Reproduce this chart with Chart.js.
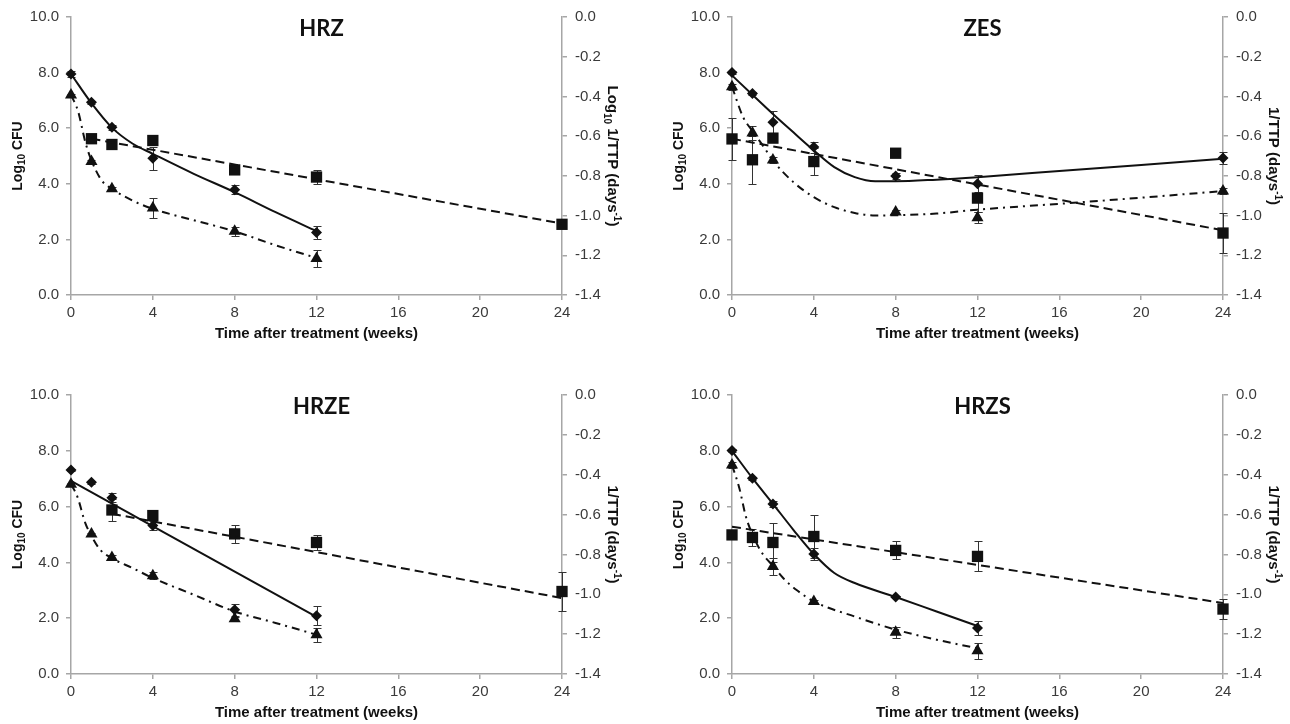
<!DOCTYPE html>
<html><head><meta charset="utf-8">
<script src="https://cdn.jsdelivr.net/npm/chart.js@4.4.1/dist/chart.umd.min.js"></script>
<style>
html,body{margin:0;padding:0;background:#fff;}
body{width:1290px;height:724px;position:relative;overflow:hidden;}
.panel{position:absolute;}
canvas{display:block;}
</style></head><body>
<div class="panel" style="left:0;top:0;"><canvas id="c1" width="645" height="360"></canvas></div>
<div class="panel" style="left:645px;top:0;"><canvas id="c2" width="645" height="360"></canvas></div>
<div class="panel" style="left:0;top:360px;"><canvas id="c3" width="645" height="364"></canvas></div>
<div class="panel" style="left:645px;top:360px;"><canvas id="c4" width="645" height="364"></canvas></div>
<script>
// ---------- data ----------
const weeks = [0, 1, 2, 4, 8, 12, 24];
const xTickValues = [0, 4, 8, 12, 16, 20, 24];
const cfuTickValues = [0, 2, 4, 6, 8, 10];
const ttpTickValues = [0, -0.2, -0.4, -0.6, -0.8, -1.0, -1.2, -1.4];

// HRZ
const hrzCfu    = [7.95, 6.93, 6.03, 4.92, 3.79, 2.25, null];
const hrzCfuErr = [0.10, 0.05, 0.08, 0.42, 0.15, 0.25, null];
const hrzTri    = [7.19, 4.80, 3.82, 3.13, 2.29, 1.31, null];
const hrzTriErr = [0.05, 0.05, 0.08, 0.35, 0.15, 0.30, null];
const hrzTtp    = [null, -0.613, -0.642, -0.622, -0.770, -0.806, -1.044];
const hrzTtpErr = [null, 0.010, 0.025, 0.020, 0.010, 0.037, 0.020];
const hrzCfuFitT = [0, 1, 2, 3, 4, 6, 8, 10, 12];
const hrzCfuFit  = [7.95, 6.90, 6.02, 5.45, 5.08, 4.36, 3.70, 2.98, 2.30];
const hrzTriFitT = [0, 0.35, 0.7, 1, 1.5, 2, 3, 4, 6, 8, 10, 12];
const hrzTriFit  = [7.20, 6.60, 5.50, 4.84, 4.12, 3.82, 3.40, 3.10, 2.69, 2.29, 1.79, 1.33];
const hrzTtpFitT = [1, 24];
const hrzTtpFit  = [-0.613, -1.040];

// ZES
const zesCfu    = [8.00, 7.25, 6.21, 5.32, 4.28, 4.00, 4.93];
const zesCfuErr = [0.05, 0.05, 0.40, 0.20, 0.12, 0.30, 0.20];
const zesTri    = [7.49, 5.83, 4.86, null, 2.99, 2.78, 3.74];
const zesTriErr = [0.10, 0.25, 0.10, null, 0.08, 0.20, 0.10];
const zesTtp    = [-0.614, -0.719, -0.610, -0.728, -0.686, -0.912, -1.088];
const zesTtpErr = [0.105, 0.120, 0.020, 0.066, 0, 0.070, 0.100];
const zesCfuFitT = [0, 1, 2, 3, 4, 5, 6, 7, 8, 10, 12, 16, 20, 24];
const zesCfuFit  = [7.90, 7.20, 6.51, 5.85, 5.20, 4.60, 4.24, 4.09, 4.09, 4.15, 4.24, 4.46, 4.68, 4.90];
const zesTriFitT = [0, 0.55, 1, 1.56, 2, 3, 4, 5, 6, 7, 8, 10, 12, 16, 20, 24];
const zesTriFit  = [7.49, 6.39, 5.90, 5.32, 4.84, 4.06, 3.52, 3.16, 2.95, 2.86, 2.87, 2.93, 3.07, 3.28, 3.50, 3.74];
const zesTtpFitT = [0, 24];
const zesTtpFit  = [-0.613, -1.074];

// HRZE
const hrzeCfu    = [7.31, 6.87, 6.32, 5.32, 2.30, 2.09, null];
const hrzeCfuErr = [0.05, 0.05, 0.15, 0.15, 0.22, 0.33, null];
const hrzeTri    = [6.80, 5.02, 4.18, 3.52, 1.98, 1.41, null];
const hrzeTriErr = [0.05, 0.05, 0.10, 0.12, 0.08, 0.25, null];
const hrzeTtp    = [null, null, -0.577, -0.605, -0.697, -0.740, -0.986];
const hrzeTtpErr = [null, null, 0.055, 0.015, 0.046, 0.037, 0.100];
const hrzeCfuFitT = [0, 12];
const hrzeCfuFit  = [6.92, 2.05];
const hrzeTriFitT = [0, 0.31, 0.7, 1, 1.43, 2, 3, 4, 6, 8, 10, 12];
const hrzeTriFit  = [6.80, 6.36, 5.41, 4.95, 4.45, 4.15, 3.80, 3.44, 2.84, 2.24, 1.83, 1.41];
const hrzeTtpFitT = [2, 24];
const hrzeTtpFit  = [-0.596, -1.019];

// HRZS
const hrzsCfu    = [8.01, 7.02, 6.09, 4.30, 2.76, 1.65, null];
const hrzsCfuErr = [0.05, 0.05, 0.12, 0.20, 0.05, 0.25, null];
const hrzsTri    = [7.49, null, 3.85, 2.60, 1.50, 0.83, null];
const hrzsTriErr = [0.10, null, 0.30, 0.05, 0.20, 0.28, null];
const hrzsTtp    = [-0.702, -0.715, -0.740, -0.710, -0.780, -0.810, -1.074];
const hrzsTtpErr = [0.010, 0.042, 0.100, 0.109, 0.045, 0.075, 0.050];
const hrzsCfuFitT = [0, 1, 2, 3, 4, 5, 6, 8, 10, 12];
const hrzsCfuFit  = [8.00, 7.02, 6.10, 5.17, 4.30, 3.62, 3.26, 2.76, 2.24, 1.72];
const hrzsTriFitT = [0, 0.36, 0.68, 1.12, 1.53, 2, 2.5, 3.14, 4, 6, 8, 10, 12];
const hrzsTriFit  = [7.49, 6.66, 5.64, 4.81, 4.27, 3.88, 3.44, 3.02, 2.60, 2.06, 1.59, 1.23, 0.92];
const hrzsTtpFitT = [0, 24];
const hrzsTtpFit  = [-0.661, -1.044];

// ---------- helpers ----------
const FONT = '"Liberation Sans", Arial, Helvetica, sans-serif';
const AXIS_COLOR = '#a6a6a6';
const INK = '#111';

function pts(xs, ys, errs) {
  const out = [];
  xs.forEach((x, i) => {
    if (ys[i] === null || ys[i] === undefined) return;
    const p = {x: x, y: ys[i]};
    if (errs) p.e = errs[i] || 0;
    out.push(p);
  });
  return out;
}

function drawRich(ctx, segs, cx, cy, rot, size) {
  ctx.save();
  ctx.translate(cx, cy);
  ctx.rotate(rot);
  let total = 0;
  const parts = segs.map(s => {
    const fs = s.k ? Math.round(size * 0.68) : size;
    ctx.font = 'bold ' + fs + 'px ' + FONT;
    const w = ctx.measureText(s.t).width;
    total += w;
    return {s: s, fs: fs, w: w};
  });
  let x = -total / 2;
  ctx.textBaseline = 'alphabetic';
  ctx.textAlign = 'left';
  ctx.fillStyle = INK;
  const base = size * 0.36;
  parts.forEach(p => {
    ctx.font = 'bold ' + p.fs + 'px ' + FONT;
    const dy = p.s.k === 'sub' ? size * 0.22 : (p.s.k === 'sup' ? -size * 0.42 : 0);
    ctx.fillText(p.s.t, x, base + dy);
    x += p.w;
  });
  ctx.restore();
}

const errorBars = {
  id: 'errorBars',
  beforeDatasetsDraw(chart) {
    const ctx = chart.ctx;
    const xs = chart.scales.x;
    chart.data.datasets.forEach(ds => {
      if (!ds.withErr) return;
      const ys = chart.scales[ds.yAxisID];
      ctx.save();
      ctx.strokeStyle = '#333';
      ctx.lineWidth = 1;
      ds.data.forEach(p => {
        if (!p.e) return;
        const x = Math.round(xs.getPixelForValue(p.x)) + 0.5;
        const y1 = Math.round(ys.getPixelForValue(p.y + p.e)) + 0.5;
        const y2 = Math.round(ys.getPixelForValue(p.y - p.e)) + 0.5;
        ctx.beginPath();
        ctx.moveTo(x, y1); ctx.lineTo(x, y2);
        ctx.moveTo(x - 4, y1); ctx.lineTo(x + 4, y1);
        ctx.moveTo(x - 4, y2); ctx.lineTo(x + 4, y2);
        ctx.stroke();
      });
      ctx.restore();
    });
  }
};

const texts = {
  id: 'texts',
  afterDraw(chart, args, opts) {
    const ctx = chart.ctx;
    const a = chart.chartArea;
    const midY = (a.top + a.bottom) / 2;
    const midX = (a.left + a.right) / 2;
    ctx.save();
    ctx.font = 'bold 22px Lato, "Open Sans", sans-serif';
    ctx.fillStyle = INK;
    ctx.textAlign = 'center';
    ctx.textBaseline = 'middle';
    ctx.fillText(opts.title, midX + 5, a.top + 12);
    ctx.restore();
    drawRich(ctx, [{t: 'Log'}, {t: '10', k: 'sub'}, {t: ' CFU'}], a.left - 54, midY, -Math.PI / 2, 14);
    drawRich(ctx, opts.rightTitle, a.right + 51, midY, Math.PI / 2, 15);
    drawRich(ctx, [{t: 'Time after treatment (weeks)'}], midX, a.bottom + 38, 0, 15);
  }
};

function axisCommon() {
  return {
    grid: {display: true, drawOnChartArea: false, drawTicks: true, tickLength: 5, color: AXIS_COLOR, lineWidth: 1.5},
    border: {display: true, color: AXIS_COLOR, width: 1.5},
  };
}

function makeChart(id, p) {
  const ds = [
    {label: 'cfuFit', data: pts(p.cfuFitT, p.cfuFit), yAxisID: 'y', showLine: true, pointRadius: 0,
     borderColor: INK, borderWidth: 2, cubicInterpolationMode: 'monotone', fill: false, clip: false},
    {label: 'triFit', data: pts(p.triFitT, p.triFit), yAxisID: 'y', showLine: true, pointRadius: 0,
     borderColor: INK, borderWidth: 2, borderDash: [8, 5, 2, 5], cubicInterpolationMode: 'monotone', fill: false, clip: false},
    {label: 'ttpFit', data: pts(p.ttpFitT, p.ttpFit), yAxisID: 'y2', showLine: true, pointRadius: 0,
     borderColor: INK, borderWidth: 2, borderDash: [9, 5], fill: false, clip: false},
    {label: 'ttp', data: pts(weeks, p.ttp, p.ttpErr), withErr: true, yAxisID: 'y2', showLine: false,
     pointStyle: 'rect', pointRadius: 8, pointBackgroundColor: INK, pointBorderColor: INK, pointBorderWidth: 0, clip: false},
    {label: 'tri', data: pts(weeks, p.tri, p.triErr), withErr: true, yAxisID: 'y', showLine: false,
     pointStyle: 'triangle', pointRadius: 7, pointBackgroundColor: INK, pointBorderColor: INK, pointBorderWidth: 0, clip: false},
    {label: 'cfu', data: pts(weeks, p.cfu, p.cfuErr), withErr: true, yAxisID: 'y', showLine: false,
     pointStyle: 'rectRot', pointRadius: 5.5, pointBackgroundColor: INK, pointBorderColor: INK, pointBorderWidth: 0, clip: false},
  ];
  const tickFont = {family: FONT, size: 15};
  return new Chart(document.getElementById(id), {
    type: 'scatter',
    data: {datasets: ds},
    options: {
      responsive: false,
      animation: false,
      events: [],
      layout: {padding: {top: p.padTop, left: 0, right: 0, bottom: 0}},
      plugins: {legend: {display: false}, tooltip: {enabled: false},
                texts: {title: p.title, rightTitle: p.rightTitle}},
      scales: {
        x: Object.assign(axisCommon(), {
          type: 'linear', position: 'bottom', min: 0, max: 24,
          afterBuildTicks: s => { s.ticks = xTickValues.map(v => ({value: v})); },
          afterFit: s => { s.height = p.xH; },
          ticks: {font: tickFont, color: '#3a3a3a', padding: 4, maxRotation: 0, callback: v => String(v)},
        }),
        y: Object.assign(axisCommon(), {
          type: 'linear', position: 'left', min: 0, max: 10,
          afterBuildTicks: s => { s.ticks = cfuTickValues.map(v => ({value: v})); },
          afterFit: s => { s.width = p.leftW; },
          ticks: {font: tickFont, color: '#3a3a3a', padding: 7, callback: v => Number(v).toFixed(1)},
        }),
        y2: Object.assign(axisCommon(), {
          type: 'linear', position: 'right', min: -1.4, max: 0,
          afterBuildTicks: s => { s.ticks = ttpTickValues.map(v => ({value: v})); },
          afterFit: s => { s.width = p.rightW; },
          ticks: {font: tickFont, color: '#3a3a3a', padding: 8, callback: v => Number(v).toFixed(1)},
        }),
      }
    },
    plugins: [errorBars, texts]
  });
}

const ttpTitle = [{t: '1/TTP (days'}, {t: '-1', k: 'sup'}, {t: ')'}];
const logTtpTitle = [{t: 'Log'}, {t: '10', k: 'sub'}, {t: ' 1/TTP (days'}, {t: '-1', k: 'sup'}, {t: ')'}];

makeChart('c1', {title: 'HRZ', rightTitle: logTtpTitle, padTop: 16, leftW: 71, rightW: 83, xH: 65,
  cfu: hrzCfu, cfuErr: hrzCfuErr, tri: hrzTri, triErr: hrzTriErr, ttp: hrzTtp, ttpErr: hrzTtpErr,
  cfuFitT: hrzCfuFitT, cfuFit: hrzCfuFit, triFitT: hrzTriFitT, triFit: hrzTriFit, ttpFitT: hrzTtpFitT, ttpFit: hrzTtpFit});
makeChart('c2', {title: 'ZES', rightTitle: ttpTitle, padTop: 16, leftW: 87, rightW: 67, xH: 65,
  cfu: zesCfu, cfuErr: zesCfuErr, tri: zesTri, triErr: zesTriErr, ttp: zesTtp, ttpErr: zesTtpErr,
  cfuFitT: zesCfuFitT, cfuFit: zesCfuFit, triFitT: zesTriFitT, triFit: zesTriFit, ttpFitT: zesTtpFitT, ttpFit: zesTtpFit});
makeChart('c3', {title: 'HRZE', rightTitle: ttpTitle, padTop: 35, leftW: 71, rightW: 83, xH: 50,
  cfu: hrzeCfu, cfuErr: hrzeCfuErr, tri: hrzeTri, triErr: hrzeTriErr, ttp: hrzeTtp, ttpErr: hrzeTtpErr,
  cfuFitT: hrzeCfuFitT, cfuFit: hrzeCfuFit, triFitT: hrzeTriFitT, triFit: hrzeTriFit, ttpFitT: hrzeTtpFitT, ttpFit: hrzeTtpFit});
makeChart('c4', {title: 'HRZS', rightTitle: ttpTitle, padTop: 35, leftW: 87, rightW: 67, xH: 50,
  cfu: hrzsCfu, cfuErr: hrzsCfuErr, tri: hrzsTri, triErr: hrzsTriErr, ttp: hrzsTtp, ttpErr: hrzsTtpErr,
  cfuFitT: hrzsCfuFitT, cfuFit: hrzsCfuFit, triFitT: hrzsTriFitT, triFit: hrzsTriFit, ttpFitT: hrzsTtpFitT, ttpFit: hrzsTtpFit});
</script>
</body></html>
